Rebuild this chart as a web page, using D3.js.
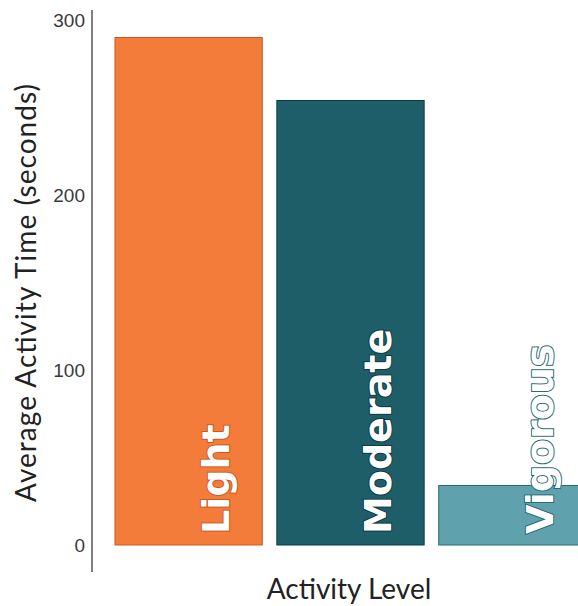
<!DOCTYPE html>
<meta charset="utf-8">
<style>
  body {
    margin: 0;
    font-family: 'Lato', sans-serif;
    background: #fff;
  }

  .tick text {
    font-family: 'Liberation Sans', Arial, sans-serif;
    font-size: 19px;
    fill: #3a3a3a;
  }

  .axisLabel {
    font-family: 'Lato', sans-serif;
    font-size: 28px;
    fill: #222;
  }

  .barLabel {
    font-family: 'DejaVu Sans', sans-serif;
    font-weight: bold;
    font-size: 38px;
    fill: #fff;
    paint-order: stroke;
    stroke-width: 2px;
  }
</style>

<body>
  <div id="my_dataviz"></div>
  <script src="https://d3js.org/d3.v7.min.js"></script>

  <script>
    // data
    var levels = ["Light", "Moderate", "Vigorous"];
    var avgSeconds = [290, 254, 34];
    var barColors = ["#f47c3b", "#1e5e68", "#5fa2ae"];
    var edgeColors = ["#c85a20", "#0e3a42", "#2a6a76"];
    var yTicks = [0, 100, 200, 300];

    var data = levels.map(function(d, i) {
      return { level: d, value: avgSeconds[i], color: barColors[i], edge: edgeColors[i] };
    });

    var margin = { top: 20, right: 0, bottom: 61, left: 92 },
      width = 578,
      height = 606;

    var svg = d3.select("#my_dataviz")
      .append("svg")
      .attr("width", width)
      .attr("height", height);

    // x: the last bar runs off the right edge, as in the original
    var x = d3.scaleBand()
      .domain(levels)
      .range([margin.left, 609])
      .paddingInner(0.09)
      .paddingOuter(0.142);

    var y = d3.scaleLinear()
      .domain([0, 300])
      .range([height - margin.bottom, margin.top]);

    // bars
    svg.selectAll("rect.bar")
      .data(data)
      .enter()
      .append("rect")
      .attr("class", "bar")
      .attr("x", function(d) { return x(d.level); })
      .attr("y", function(d) { return y(d.value); })
      .attr("width", x.bandwidth())
      .attr("height", function(d) { return y(0) - y(d.value); })
      .style("fill", function(d) { return d.color; })
      .style("stroke", function(d) { return d.edge; })
      .style("stroke-width", 1);

    // rotated labels at the foot of each bar
    svg.selectAll("text.barLabel")
      .data(data)
      .enter()
      .append("text")
      .attr("class", "barLabel")
      .attr("transform", function(d) {
        return "translate(" + (x(d.level) + x.bandwidth() - 33) + "," + (y(0) - 11) + ") rotate(-90)";
      })
      .style("stroke", function(d) { return d.edge; })
      .text(function(d) { return d.level; });

    // y axis: just the line and the labels, no ticks
    var yAxis = svg.append("g")
      .attr("transform", "translate(" + margin.left + ",0)")
      .call(d3.axisLeft(y).tickValues(yTicks).tickSize(0).tickPadding(7));
    yAxis.select(".domain").remove();
    yAxis.append("line")
      .attr("x1", 0).attr("x2", 0)
      .attr("y1", y(300) - 10)
      .attr("y2", y(0) + 27)
      .style("stroke", "#555")
      .style("stroke-width", 1.5);

    // axis titles
    svg.append("text")
      .attr("class", "axisLabel")
      .attr("transform", "rotate(-90)")
      .attr("x", -293)
      .attr("y", 36)
      .attr("text-anchor", "middle")
      .attr("textLength", 418)
      .attr("lengthAdjust", "spacing")
      .text("Average Activity Time (seconds)");

    svg.append("text")
      .attr("class", "axisLabel")
      .attr("x", 349)
      .attr("y", 599)
      .attr("text-anchor", "middle")
      .text("Activity Level");
  </script>
</body>
